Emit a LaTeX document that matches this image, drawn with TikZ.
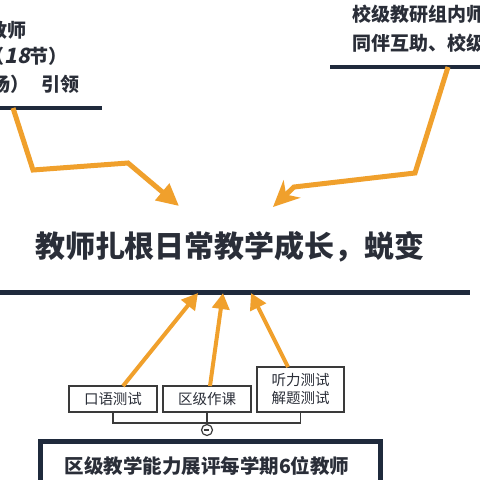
\documentclass[tikz,border=0pt]{standalone}
\usepackage{fontspec}
\setmainfont{Noto Sans CJK SC}
\newfontfamily\numit{Noto Sans CJK SC}[FakeSlant=0.2]
\usetikzlibrary{arrows.meta,calc}
\definecolor{orangeA}{HTML}{F0A02C}
\definecolor{navy}{HTML}{1F2A3C}
\definecolor{textdark}{HTML}{2A2E38}
\definecolor{boxgray}{HTML}{3A3A3A}
\begin{document}
\begin{tikzpicture}[x=1pt,y=-1pt,
  arr/.style={draw=orangeA, line width=5pt, line join=miter},
  bar/.style={draw=navy, line width=4.5pt},
  lbl/.style={draw=boxgray, line width=1.2pt, inner sep=0pt, align=center,
    font=\fontsize{14.5}{18}\selectfont, text=textdark},
  side/.style={inner sep=0pt, text=textdark, font=\bfseries\fontsize{19}{22}\selectfont},
  conn/.style={draw=boxgray, line width=1.2pt},
]
\useasboundingbox (0,0) rectangle (480,480);
\fill[white] (0,0) rectangle (480,480);

% top-left block
\node[side, anchor=east] (tl1) at (27,30) {教师};
\node[side, anchor=east] (tl2) at (68,56) {（{\numit\bfseries\fontsize{21}{22}\selectfont 18}节）};
\node[side, anchor=east] (tl3) at (80,84) {场）\kern12pt 引领};
\coordinate (tlL) at (-3,108);
\coordinate (tlR) at (102,108);
\draw[bar] (tlL) -- (tlR);

% top-right block
\node[side, anchor=west] (tr1) at (352,14) {校级教研组内师};
\node[side, anchor=west] (tr2) at (352,43) {同伴互助、校级};
\coordinate (trL) at (330,67);
\coordinate (trR) at (483,67);
\draw[bar] (trL) -- (trR);

% main title and bar
\node[inner sep=0pt, text=textdark, font=\bfseries\fontsize{30}{34}\selectfont] (main) at (230,247) {教师扎根日常教学成长，蜕变};
\coordinate (mbL) at (-3,292);
\coordinate (mbR) at (470,292);
\draw[navy, line width=5pt] (mbL) -- (mbR);

% upper orange arrows
\coordinate (a1s) at (13,108);
\coordinate (a1b) at (33,170);
\coordinate (a1c) at (128,163);
\coordinate (a1t) at (179,206);
\draw[arr, -{Triangle[length=22pt,width=21pt]}] (a1s) -- (a1b) -- (a1c) -- (a1t);

\coordinate (a2s) at (448,67);
\coordinate (a2b) at (415,173);
\coordinate (a2c) at (294,187);
\coordinate (a2t) at (273,207);
\draw[arr, -{Stealth[length=26pt,width=24pt,inset=8pt]}] (a2s) -- (a2b) -- (a2c) -- (a2t);

% boxes
\node[lbl, minimum width=88pt, minimum height=26pt] (b1) at (113,399) {口语测试};
\node[lbl, minimum width=88pt, minimum height=26pt] (b2) at (207,399) {区级作课};
\node[lbl, minimum width=87pt, minimum height=45pt] (b3) at (300.5,389.5) {听力测试\\解题测试};

% connectors
\coordinate (jn) at (207,423);
\node[draw=boxgray, line width=1.2pt, circle, minimum size=11pt, inner sep=0pt, fill=white] (mn) at (207,430) {};
\draw[conn] (mn.west) ++(3,0) -- ++(5,0);
\draw[conn] (b1.south) |- (jn) -| (b3.south);
\draw[conn] (b2.south) -- (mn.north);

% lower orange arrows
\coordinate (u1s) at (123,386);
\coordinate (u1t) at (198,293);
\coordinate (u2s) at (210,386);
\coordinate (u2t) at (223,293);
\coordinate (u3s) at (288,367);
\coordinate (u3t) at (251,293);
\draw[arr, line width=4pt, -{Triangle[length=16pt,width=17pt]}] (u1s) -- (u1t);
\draw[arr, line width=4pt, -{Triangle[length=16pt,width=17pt]}] (u2s) -- (u2t);
\draw[arr, line width=4pt, -{Triangle[length=16pt,width=17pt]}] (u3s) -- (u3t);

% bottom box
\node[draw=navy, line width=4.5pt, fill=white, minimum width=340pt, minimum height=56pt, anchor=north west, inner sep=0pt] (bb) at (38,439) {};
\node[inner sep=0pt, text=textdark, font=\bfseries\fontsize{19.5}{23}\selectfont] (bt) at (207,466) {区级教学能力展评每学期6位教师};
\end{tikzpicture}
\end{document}
